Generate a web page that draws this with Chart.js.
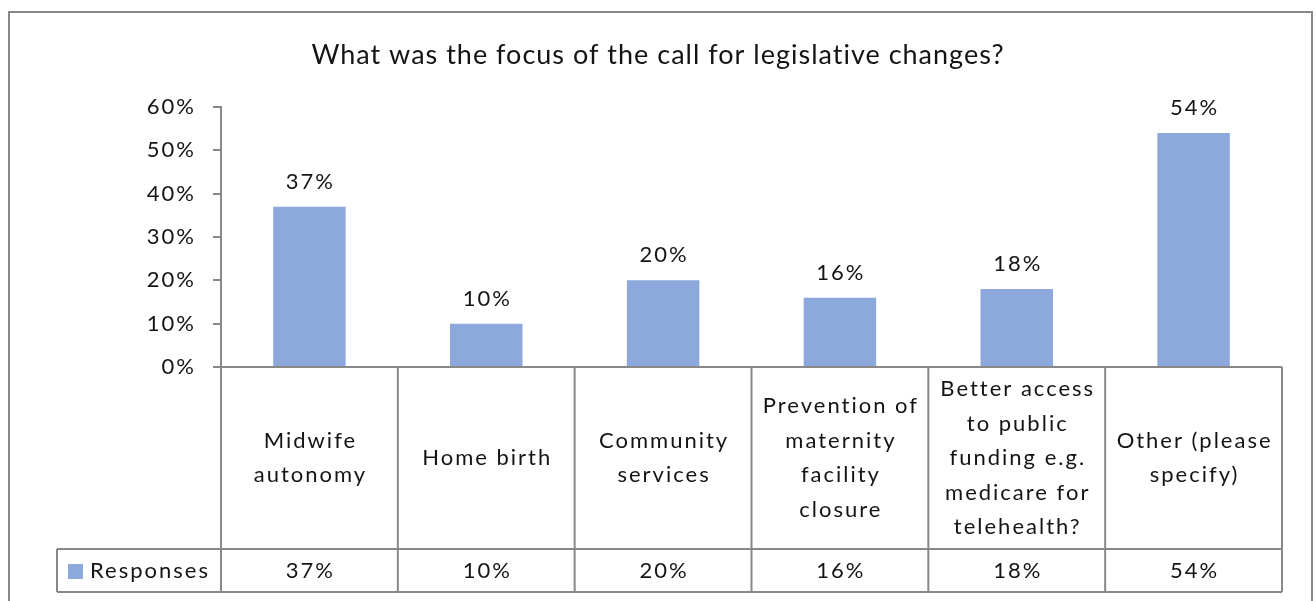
<!DOCTYPE html>
<html>
<head>
<meta charset="utf-8">
<style>
  html, body { margin: 0; padding: 0; background: #ffffff; }
  #wrap { width: 1316px; height: 601px; position: relative; }
</style>
<script src="https://cdn.jsdelivr.net/npm/chart.js@4/dist/chart.umd.min.js"></script>
</head>
<body>
<div id="wrap"><canvas id="chart" width="1316" height="601"></canvas></div>
<script>
// Survey question and answer options
const chartTitle = 'What was the focus of the call for legislative changes?';
const seriesName = 'Responses';
const categories = [
  ['Midwife', 'autonomy'],
  ['Home birth'],
  ['Community', 'services'],
  ['Prevention of', 'maternity', 'facility', 'closure'],
  ['Better access', 'to public', 'funding e.g.', 'medicare for', 'telehealth?'],
  ['Other (please', 'specify)']
];
// Share of responses (fraction of respondents)
const responses = [0.37, 0.10, 0.20, 0.16, 0.18, 0.54];
const yTicks = [0, 0.1, 0.2, 0.3, 0.4, 0.5, 0.6];

const FONT = 'Lato, "Open Sans", "Liberation Sans", sans-serif';
const LINE = '#888888';
const TEXT = '#141414';
const BAR = '#8da9db';
const SPACING = '2px';

const pct = v => Math.round(v * 100) + '%';

// Wider letter spacing for all canvas text, including the axis tick labels
const spacingPlugin = {
  id: 'spacing',
  beforeDraw(chart) { chart.ctx.letterSpacing = SPACING; }
};

// Draws the frame, title, value labels and the data table under the axis
const tablePlugin = {
  id: 'excelTable',
  afterDraw(chart) {
    const ctx = chart.ctx;
    const area = chart.chartArea;
    const x = chart.scales.x;
    const y = chart.scales.y;
    const n = categories.length;
    const cw = (area.right - area.left) / n;
    const rowTop = y.getPixelForValue(0);
    const rowMid = rowTop + 182;
    const rowBot = rowMid + 43;
    const legendLeft = 57;

    ctx.save();
    // outer frame
    ctx.strokeStyle = LINE;
    ctx.lineWidth = 2;
    ctx.strokeRect(9, 12, 1303, 620);

    // title
    ctx.fillStyle = TEXT;
    ctx.letterSpacing = '1px';
    ctx.font = '27px ' + FONT;
    ctx.textAlign = 'center';
    ctx.textBaseline = 'middle';
    ctx.fillText(chartTitle, 658, 55);

    // value labels above bars
    ctx.letterSpacing = SPACING;
    const meta = chart.getDatasetMeta(0);
    ctx.font = '22px ' + FONT;
    meta.data.forEach((bar, i) => {
      ctx.fillText(pct(responses[i]), bar.x + 1, bar.y - 25);
    });

    // table grid
    ctx.lineWidth = 2;
    ctx.strokeStyle = LINE;
    ctx.beginPath();
    ctx.moveTo(area.left, rowTop); ctx.lineTo(area.right, rowTop);
    ctx.moveTo(legendLeft, rowMid); ctx.lineTo(area.right, rowMid);
    ctx.moveTo(legendLeft, rowBot); ctx.lineTo(area.right, rowBot);
    ctx.moveTo(legendLeft, rowMid); ctx.lineTo(legendLeft, rowBot);
    for (let i = 0; i <= n; i++) {
      const gx = area.left + i * cw;
      ctx.moveTo(gx, rowTop); ctx.lineTo(gx, rowBot);
    }
    ctx.stroke();

    // category labels and values
    ctx.fillStyle = TEXT;
    ctx.font = '22px ' + FONT;
    const lh = 34.5;
    categories.forEach((lines, i) => {
      const cx = x.getPixelForValue(i) + 1;
      const cy = (rowTop + rowMid) / 2;
      const start = cy - (lines.length - 1) * lh / 2;
      lines.forEach((t, k) => ctx.fillText(t, cx, start + k * lh));
      ctx.fillText(pct(responses[i]), cx, (rowMid + rowBot) / 2);
    });

    // legend key
    ctx.fillStyle = BAR;
    ctx.fillRect(68, 564, 15, 15);
    ctx.fillStyle = TEXT;
    ctx.textAlign = 'left';
    ctx.fillText(seriesName, 90, (rowMid + rowBot) / 2);
    ctx.restore();
  }
};

new Chart(document.getElementById('chart'), {
  type: 'bar',
  data: {
    labels: categories,
    datasets: [{
      label: seriesName,
      data: responses,
      backgroundColor: BAR,
      borderWidth: 0,
      categoryPercentage: 1,
      barPercentage: 0.41
    }]
  },
  options: {
    responsive: false,
    animation: false,
    layout: { padding: { left: 0, top: 107, right: 34, bottom: 234 } },
    plugins: { legend: { display: false }, tooltip: { enabled: false }, title: { display: false } },
    scales: {
      x: { display: false },
      y: {
        min: 0,
        max: 0.6,
        afterFit(scale) { scale.width = 221; },
        afterBuildTicks(scale) { scale.ticks = yTicks.map(v => ({ value: v })); },
        ticks: {
          callback: v => pct(v),
          color: TEXT,
          font: { family: FONT, size: 22 },
          padding: 17
        },
        grid: {
          drawOnChartArea: false,
          drawTicks: true,
          tickLength: 8,
          color: LINE,
          lineWidth: 2
        },
        border: { display: true, color: LINE, width: 2 }
      }
    }
  },
  plugins: [spacingPlugin, tablePlugin]
});
</script>
</body>
</html>
